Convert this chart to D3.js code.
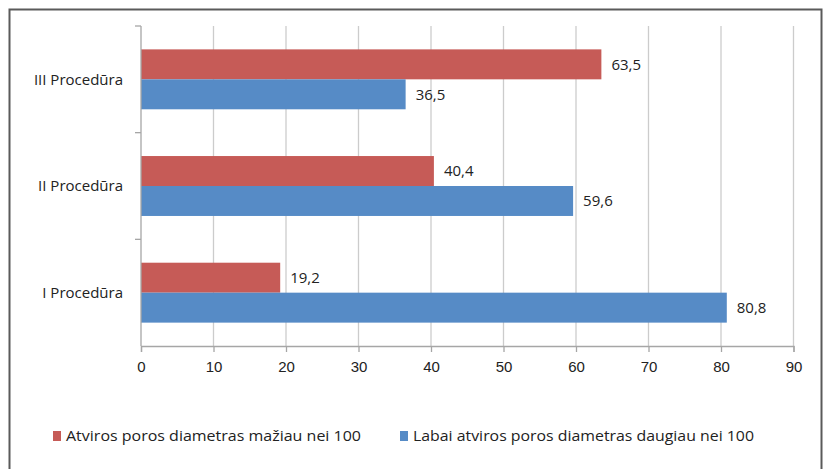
<!DOCTYPE html>
<html lang="lv">
<head>
    <meta charset="UTF-8">
    <title>Procedūras</title>
    <script src="https://d3js.org/d3.v7.min.js"></script>
    <style>
        body {
            margin: 0;
            background: white;
            font-family: "Open Sans", "Liberation Sans", sans-serif;
        }
        .tick-label {
            font-size: 15px;
            fill: #222;
        }
        .value-label {
            font-size: 15px;
            fill: #222;
        }
        .legend-label {
            font-size: 15px;
            fill: #222;
        }
    </style>
</head>
<body>
    <svg width="826" height="469"></svg>
    <script>
        // data (top to bottom)
        const categories = ["III Procedūra", "II Procedūra", "I Procedūra"];
        const seriesNames = [
            "Atviros poros diametras mažiau nei 100",
            "Labai atviros poros diametras daugiau nei 100"
        ];
        const smallPores = [63.5, 40.4, 19.2];
        const largePores = [36.5, 59.6, 80.8];
        const xTicks = [0, 10, 20, 30, 40, 50, 60, 70, 80, 90];
        const colors = ["#C65B57", "#568BC6"];

        const svg = d3.select("svg"),
            width = +svg.attr("width"),
            height = +svg.attr("height");

        const plot = { left: 141, right: 793.5, top: 26, bottom: 346 };

        // outer frame
        svg.append("rect")
            .attr("x", 9.5)
            .attr("y", 9.5)
            .attr("width", 812)
            .attr("height", 480)
            .attr("fill", "none")
            .attr("stroke", "#5a5a5a")
            .attr("stroke-width", 2);

        const x = d3.scaleLinear()
            .domain([0, 90])
            .range([plot.left, plot.right]);

        const y = d3.scaleBand()
            .domain(categories)
            .range([plot.top, plot.bottom]);

        const inner = d3.scaleBand()
            .domain([0, 1])
            .range([0, y.bandwidth()])
            .paddingInner(0)
            .paddingOuter(0.78);

        // vertical gridlines
        svg.append("g")
            .selectAll("line")
            .data(xTicks.slice(1))
            .join("line")
            .attr("x1", d => x(d))
            .attr("x2", d => x(d))
            .attr("y1", plot.top)
            .attr("y2", plot.bottom)
            .attr("stroke", "#cccccc")
            .attr("stroke-width", 1.3);

        const rows = categories.map((c, i) => ({ cat: c, values: [smallPores[i], largePores[i]] }));

        const groups = svg.append("g")
            .selectAll("g")
            .data(rows)
            .join("g")
            .attr("transform", d => `translate(0,${y(d.cat)})`);

        groups.selectAll("rect")
            .data(d => d.values.map((v, k) => ({ v, k })))
            .join("rect")
            .attr("x", x(0))
            .attr("y", d => inner(d.k))
            .attr("width", d => x(d.v) - x(0))
            .attr("height", inner.bandwidth())
            .attr("fill", d => colors[d.k]);

        groups.selectAll("text")
            .data(d => d.values.map((v, k) => ({ v, k })))
            .join("text")
            .attr("class", "value-label")
            .attr("x", d => x(d.v) + 10)
            .attr("y", d => inner(d.k) + inner.bandwidth() / 2)
            .attr("dy", "0.35em")
            .text(d => d3.format(".1f")(d.v).replace(".", ","));

        // x axis
        const xAxis = svg.append("g")
            .attr("transform", `translate(0,${plot.bottom})`)
            .call(d3.axisBottom(x).tickValues(xTicks).tickSize(6).tickPadding(9));
        xAxis.select(".domain").attr("stroke", "#a6a6a6").attr("stroke-width", 1.3);
        xAxis.selectAll(".tick line").attr("stroke", "#a6a6a6").attr("stroke-width", 1.3);
        xAxis.selectAll(".tick text").attr("class", "tick-label").attr("font-family", null).attr("font-size", null);

        // y axis: line + boundary ticks
        svg.append("line")
            .attr("x1", plot.left).attr("x2", plot.left)
            .attr("y1", plot.top).attr("y2", plot.bottom)
            .attr("stroke", "#a6a6a6").attr("stroke-width", 1.3);

        svg.append("g")
            .selectAll("line")
            .data(categories)
            .join("line")
            .attr("x1", plot.left - 6)
            .attr("x2", plot.left)
            .attr("y1", d => y(d))
            .attr("y2", d => y(d))
            .attr("stroke", "#a6a6a6")
            .attr("stroke-width", 1.3);

        svg.append("g")
            .selectAll("text")
            .data(categories)
            .join("text")
            .attr("class", "tick-label")
            .attr("x", plot.left - 18)
            .attr("y", d => y(d) + y.bandwidth() / 2)
            .attr("dy", "0.35em")
            .attr("text-anchor", "end")
            .text(d => d);

        // legend
        const legendX = [53, 400];
        const legendLen = [295, 341];
        const legend = svg.append("g")
            .selectAll("g")
            .data(seriesNames)
            .join("g")
            .attr("transform", (d, i) => `translate(${legendX[i]},436)`);

        legend.append("rect")
            .attr("x", 0)
            .attr("y", -5)
            .attr("width", 8)
            .attr("height", 10)
            .attr("fill", (d, i) => colors[i]);

        legend.append("text")
            .attr("class", "legend-label")
            .attr("x", 13)
            .attr("dy", "0.35em")
            .attr("textLength", (d, i) => legendLen[i])
            .attr("lengthAdjust", "spacingAndGlyphs")
            .text(d => d);
    </script>
</body>
</html>
